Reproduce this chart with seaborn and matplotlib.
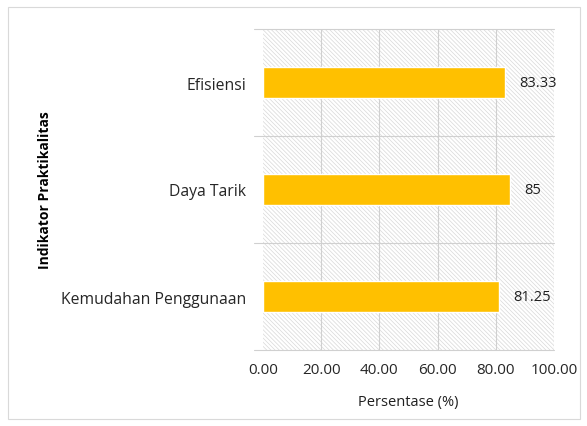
import matplotlib
matplotlib.use("Agg")
import matplotlib.pyplot as plt
import seaborn as sns
import pandas as pd
from matplotlib.patches import Rectangle

categories = ["Efisiensi", "Daya Tarik", "Kemudahan Penggunaan"]
values = [83.33, 85, 81.25]
value_labels = ["83.33", "85", "81.25"]
xticks = [0, 20, 40, 60, 80, 100]

sns.set_theme(style="white")
plt.rcParams["font.family"] = ["Open Sans", "DejaVu Sans"]
plt.rcParams["hatch.linewidth"] = 0.5

df = pd.DataFrame({"kategori": categories, "nilai": values})

fig = plt.figure(figsize=(5.87, 4.27), dpi=100)
ax = fig.add_axes([263 / 587, 1 - 351 / 427, (554 - 263) / 587, (351 - 30) / 427])

# hatched plot background
ax.add_patch(Rectangle((0, 0), 1, 1, transform=ax.transAxes, facecolor="white",
                       edgecolor="#d8d8d8", lw=0, hatch="\\" * 8, zorder=0))

sns.barplot(data=df, x="nilai", y="kategori", orient="h", color="#FFC000",
            saturation=1, width=0.29, ax=ax, zorder=3)

ax.set_xlim(0, 100)
ax.set_ylim(2.5, -0.5)
ax.set_xticks(xticks)
ax.set_xticklabels([f"{t:.2f}" for t in xticks], fontsize=11, color="#262626")
ax.tick_params(axis="y", labelsize=11.3, labelcolor="#262626", length=0, pad=12)
ax.tick_params(axis="x", length=0, pad=9)

# grid lines
for t in xticks[1:]:
    ax.axvline(t, color="#d0d0d0", lw=0.8, zorder=1)
for b in [-0.5, 0.5, 1.5, 2.5]:
    ax.plot([-0.03, 1], [b, b], transform=ax.get_yaxis_transform(),
            color="#d0d0d0", lw=0.8, zorder=1, clip_on=False)

for s in ax.spines.values():
    s.set_visible(False)

for c in ax.containers:
    ax.bar_label(c, labels=value_labels, padding=10, fontsize=10.5, color="#202020")

ax.set_xlabel("Persentase (%)", fontsize=10.5, color="#202020", labelpad=12)
ax.set_ylabel("")
fig.text(45 / 587, 1 - 190 / 427, "Indikator Praktikalitas", rotation=90,
         ha="center", va="center", fontsize=10, fontweight="bold", color="#000000")

# outer frame
fig.patches.append(Rectangle((8 / 587, 7 / 427), 572 / 587, 412 / 427,
                             transform=fig.transFigure, fill=False,
                             edgecolor="#d9d9d9", lw=0.8))

fig.savefig("out.png", dpi=100)
